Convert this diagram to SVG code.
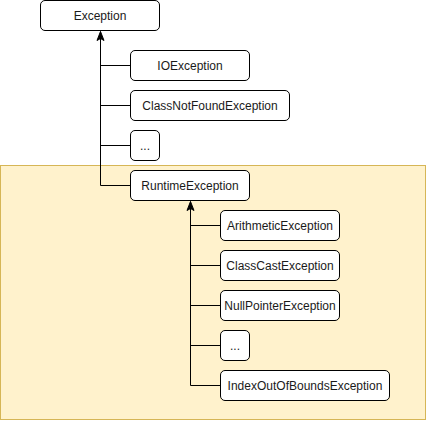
<svg xmlns="http://www.w3.org/2000/svg" width="431" height="421" viewBox="0 0 431 421">
<style>
.n{fill:#fff;stroke:#000;stroke-width:1}
.t{font-family:"Liberation Sans",Arial,sans-serif;font-size:12px;fill:#1a1a1a;text-anchor:middle;dominant-baseline:central}
.c{fill:none;stroke:#000;stroke-width:1}
</style>
<defs>
<marker id="a" markerUnits="userSpaceOnUse" markerWidth="12" markerHeight="10" viewBox="0 0 12 10" refX="10" refY="5" orient="auto">
<path d="M10 5 L1 1.5 L3 5 L1 8.5 Z" fill="#000" stroke="#000" stroke-width="1"/>
</marker>
</defs>
<rect id="area" x="0.5" y="165.5" width="425" height="254" fill="#fff2cc" stroke="#d6b656"/>
<g id="connectors">
<path class="c" d="M100.5 185.5 V31.5" marker-end="url(#a)"/>
<path class="c" d="M100.5 65.5 H130 M100.5 105.5 H130 M100.5 145.5 H130 M100.5 185.5 H130"/>
<path class="c" d="M190.5 385.5 V201.5" marker-end="url(#a)"/>
<path class="c" d="M190.5 225.5 H220 M190.5 265.5 H220 M190.5 305.5 H220 M190.5 345.5 H220 M190.5 385.5 H220"/>
</g>
<g id="exception"><rect class="n" x="40.5" y="0.5" width="119" height="30" rx="4.5"/><text class="t" x="100" y="16">Exception</text></g>
<g id="ioexception"><rect class="n" x="130.5" y="50.5" width="119" height="30" rx="4.5"/><text class="t" x="190" y="66">IOException</text></g>
<g id="classnotfound"><rect class="n" x="130.5" y="90.5" width="159" height="30" rx="4.5"/><text class="t" x="210" y="106">ClassNotFoundException</text></g>
<g id="more1"><rect class="n" x="130.5" y="130.5" width="29" height="30" rx="4.5"/><text class="t" x="145" y="146">...</text></g>
<g id="runtime"><rect class="n" x="130.5" y="170.5" width="119" height="30" rx="4.5"/><text class="t" x="190" y="186">RuntimeException</text></g>
<g id="arithmetic"><rect class="n" x="220.5" y="210.5" width="119" height="30" rx="4.5"/><text class="t" x="280" y="226">ArithmeticException</text></g>
<g id="classcast"><rect class="n" x="220.5" y="250.5" width="119" height="30" rx="4.5"/><text class="t" x="280" y="266">ClassCastException</text></g>
<g id="nullpointer"><rect class="n" x="220.5" y="290.5" width="119" height="30" rx="4.5"/><text class="t" x="280" y="306">NullPointerException</text></g>
<g id="more2"><rect class="n" x="220.5" y="330.5" width="29" height="30" rx="4.5"/><text class="t" x="235" y="346">...</text></g>
<g id="indexoutofbounds"><rect class="n" x="220.5" y="370.5" width="169" height="30" rx="4.5"/><text class="t" x="305" y="386">IndexOutOfBoundsException</text></g>
</svg>
